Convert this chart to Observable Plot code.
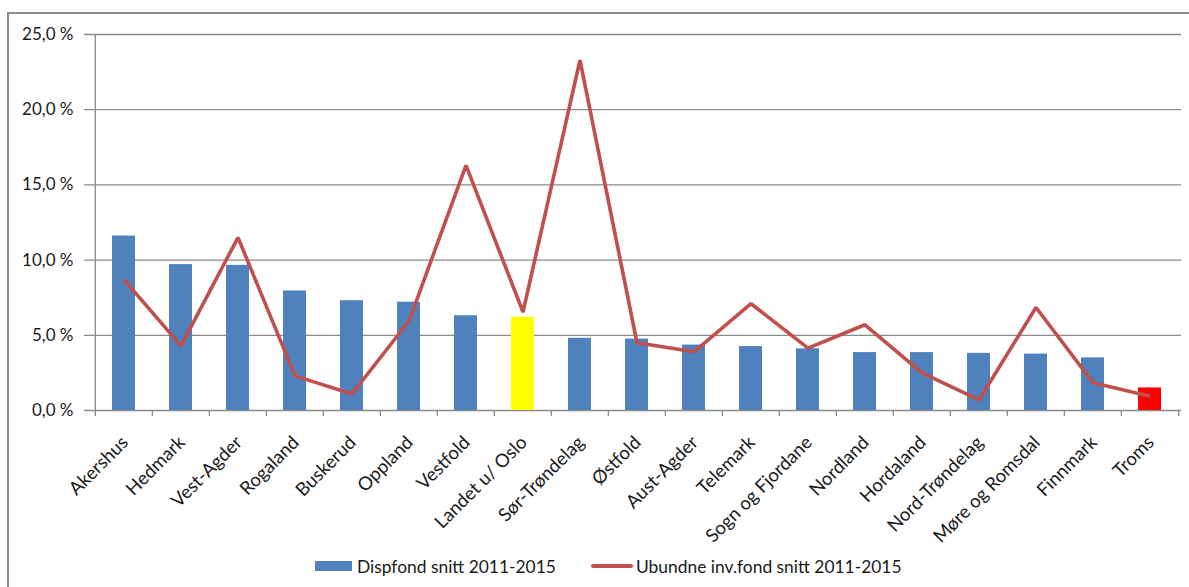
<!DOCTYPE html>
<html>
<head>
<meta charset="utf-8">
<script src="https://cdn.jsdelivr.net/npm/d3@7"></script>
<script src="https://cdn.jsdelivr.net/npm/@observablehq/plot@0.6"></script>
<style>
  html, body { margin: 0; padding: 0; background: #fff; overflow: hidden; }
  #wrap { position: relative; width: 1189px; height: 587px; font-family: Lato, "Open Sans", sans-serif; color: #1a1a1a; }
  #frame { position: absolute; left: 7px; top: 12px; width: 1210px; height: 620px; border: 2px solid #8c8c8c; box-sizing: border-box; }
  #chart { position: absolute; left: 0; top: 0; }
  .leg { position: absolute; top: 555px; height: 22px; display: flex; align-items: center; font-size: 17.4px; white-space: nowrap; }
  .sw-bar { width: 37px; height: 10px; background: #4F81BD; margin-right: 5px; }
  .sw-line { width: 42px; height: 4px; background: #C0504D; margin-right: 3px; border-radius: 2px; }
</style>
</head>
<body>
<div id="wrap">
  <div id="frame"></div>
  <div id="chart"></div>
  <div class="leg" style="left:315px"><div class="sw-bar"></div><span>Dispfond snitt 2011-2015</span></div>
  <div class="leg" style="left:591px"><div class="sw-line"></div><span>Ubundne inv.fond snitt 2011-2015</span></div>
</div>
<script>
// ---- data ----
const regions = ["Akershus","Hedmark","Vest-Agder","Rogaland","Buskerud","Oppland","Vestfold","Landet u/ Oslo","Sør-Trøndelag","Østfold","Aust-Agder","Telemark","Sogn og Fjordane","Nordland","Hordaland","Nord-Trøndelag","Møre og Romsdal","Finnmark","Troms"];
const dispfond = [11.6, 9.7, 9.65, 7.95, 7.3, 7.2, 6.3, 6.2, 4.8, 4.75, 4.35, 4.25, 4.1, 3.85, 3.85, 3.8, 3.75, 3.5, 1.5];
const ubundne = [8.7, 4.3, 11.5, 2.3, 1.1, 5.95, 16.3, 6.55, 23.3, 4.5, 3.9, 7.1, 4.15, 5.7, 2.5, 0.7, 6.85, 1.85, 0.95];
const yTicks = [0, 5, 10, 15, 20, 25];
const seriesNames = ["Dispfond snitt 2011-2015", "Ubundne inv.fond snitt 2011-2015"];

// ---- styles ----
const barColor = "#4F81BD";
const lineColor = "#C0504D";
const highlight = {"Landet u/ Oslo": "#FFFF00", "Troms": "#FF0000"};
const gridColor = "#8a8a8a";

const rows = regions.map((r, i) => ({region: r, disp: dispfond[i], ub: ubundne[i]}));

const W = 1189, H = 587, mL = 91, mR = 8, mT = 34, mB = 177;
const step = (W - mL - mR) / regions.length;
const fmt = d => d.toFixed(1).replace(".", ",") + " %";

const chart = Plot.plot({
  width: W,
  height: H,
  marginLeft: mL,
  marginRight: mR,
  marginTop: mT,
  marginBottom: mB,
  style: {fontFamily: "Lato, 'Open Sans', sans-serif", fontSize: "16px", color: "#1a1a1a", background: "transparent"},
  x: {domain: regions, paddingInner: 0.6, paddingOuter: 0.3},
  y: {domain: [0, 25]},
  color: {type: "identity"},
  marks: [
    Plot.ruleY(yTicks, {stroke: gridColor, strokeWidth: 1.3, insetLeft: -7}),
    Plot.barY(rows, {x: "region", y: "disp", fill: d => highlight[d.region] || barColor}),
    // y axis line
    Plot.ruleX([regions[0]], {y1: 25, y2: 0, dx: -step / 2, insetBottom: -6, stroke: gridColor, strokeWidth: 1.3}),
    // category boundary ticks
    Plot.ruleX(regions.slice(1), {y1: 0, y2: 0, dx: -step / 2, insetBottom: -6, stroke: gridColor, strokeWidth: 1.3}),
    Plot.ruleX([regions[regions.length - 1]], {y1: 0, y2: 0, dx: step / 2, insetBottom: -6, stroke: gridColor, strokeWidth: 1.3}),
    Plot.line(rows, {x: "region", y: "ub", stroke: lineColor, strokeWidth: 3.6, strokeLinejoin: "miter", strokeLinecap: "butt"}),
    Plot.axisX({tickSize: 0, tickPadding: 29, dx: 1, tickRotate: -45, fontSize: 18.5, label: null}),
    Plot.axisY({ticks: yTicks, tickSize: 0, tickPadding: 18, tickFormat: fmt, fontSize: 17, label: null})
  ]
});
document.getElementById("chart").appendChild(chart);
</script>
</body>
</html>
